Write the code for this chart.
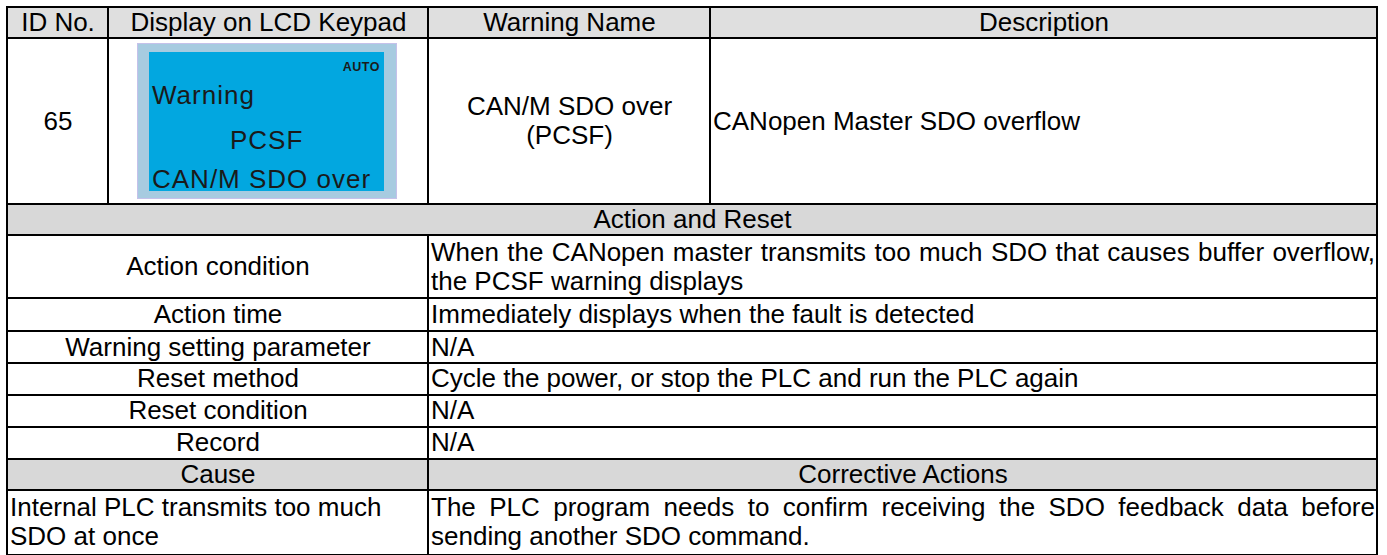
<!DOCTYPE html>
<html>
<head>
<meta charset="utf-8">
<script src="https://cdn.jsdelivr.net/npm/chart.js@4.4.1/dist/chart.umd.min.js"></script>
<style>
  html, body { margin: 0; padding: 0; background: #fff; }
  body { width: 1387px; height: 555px; position: relative; overflow: hidden;
         font-family: "Liberation Sans", Arial, sans-serif; color: #000; }
  #tbl { position: absolute; left: 6px; top: 6px; border-collapse: collapse; table-layout: fixed; }
  #tbl td { border: 2px solid #000; padding: 0 1px 0 2px; font-size: 26px; line-height: 29.2px;
            vertical-align: middle; white-space: nowrap; overflow: hidden; }
  .c { text-align: center; }
  .l { text-align: left; }
  .head td { background: #dfdfdf; }
  .sect td { background: #d8d8d8; }
  .jl { text-align: justify; text-align-last: justify; }
  #lcd { position: absolute; left: 137px; top: 43px; width: 258px; height: 154px;
         background: #a7cbe0; border: 1px solid #c5c1ea; }
  #lcdIn { position: absolute; left: 11px; top: 8px; width: 235px; height: 139px; background: #02a7e0; }
  #lcdIn div { position: absolute; color: #1a1a1a; white-space: nowrap; letter-spacing: 1px; font-size: 26px; line-height: 26px; }
  #lcdIn .mode { font-size: 12.5px; line-height: 13px; font-weight: bold; letter-spacing: 0.5px; right: 4px; top: 9px; }
</style>
</head>
<body>
<table id="tbl">
  <colgroup id="cols"></colgroup>
  <tbody id="body"></tbody>
</table>
<div id="lcd"><div id="lcdIn"></div></div>
<script>
// table content
const headers = ['ID No.', 'Display on LCD Keypad', 'Warning Name', 'Description'];
const warningId = '65';
const lcdMode = 'AUTO';
const lcdLines = ['Warning', 'PCSF', 'CAN/M SDO over'];
const warningName = ['CAN/M SDO over', '(PCSF)'];
const description = 'CANopen Master SDO overflow';
const actionTitle = 'Action and Reset';
const actionItems = ['Action condition', 'Action time', 'Warning setting parameter',
                     'Reset method', 'Reset condition', 'Record'];
const actionValues = [
  ['When the CANopen master transmits too much SDO that causes buffer overflow,', 'the PCSF warning displays'],
  ['Immediately displays when the fault is detected'],
  ['N/A'],
  ['Cycle the power, or stop the PLC and run the PLC again'],
  ['N/A'],
  ['N/A']
];
const causeHeaders = ['Cause', 'Corrective Actions'];
const causes = [['Internal PLC transmits too much', 'SDO at once']];
const corrective = [['The PLC program needs to confirm receiving the SDO feedback data before', 'sending another SDO command.']];

// layout
const colWidths = [101, 320, 282, 667];
const rowHeights = [31, 166, 31, 63, 33, 32, 30, 32, 32, 31, 65];
const lcdPos = [
  { left: 3, top: 30 },   // Warning
  { left: 81, top: 75 },  // PCSF
  { left: 3, top: 114 }   // CAN/M SDO over
];

const cols = document.getElementById('cols');
colWidths.forEach(w => {
  const c = document.createElement('col');
  c.style.width = w + 'px';
  cols.appendChild(c);
});

const body = document.getElementById('body');
let rowIdx = 0;

function addRow(cls) {
  const tr = document.createElement('tr');
  if (cls) tr.className = cls;
  tr.style.height = rowHeights[rowIdx++] + 'px';
  body.appendChild(tr);
  return tr;
}

function addCell(tr, lines, align, span, justify) {
  const td = document.createElement('td');
  td.className = align;
  if (span) td.colSpan = span;
  lines = Array.isArray(lines) ? lines : [lines];
  lines.forEach((t, i) => {
    const d = document.createElement('div');
    d.textContent = t;
    if (justify && i < lines.length - 1) d.className = 'jl';
    td.appendChild(d);
  });
  tr.appendChild(td);
  return td;
}

// header
let tr = addRow('head');
headers.forEach(h => addCell(tr, h, 'c'));

// warning row
tr = addRow();
addCell(tr, warningId, 'c');
addCell(tr, '', 'c');
addCell(tr, warningName, 'c');
addCell(tr, description, 'l');

// action and reset
tr = addRow('sect');
addCell(tr, actionTitle, 'c', 4);
actionItems.forEach((item, i) => {
  const r = addRow();
  addCell(r, item, 'c', 2);
  addCell(r, actionValues[i], 'l', 2, true);
});

// cause / corrective actions
tr = addRow('sect');
addCell(tr, causeHeaders[0], 'c', 2);
addCell(tr, causeHeaders[1], 'c', 2);
causes.forEach((c, i) => {
  const r = addRow();
  addCell(r, c, 'l', 2);
  addCell(r, corrective[i], 'l', 2, true);
});

// keypad display
const lcdIn = document.getElementById('lcdIn');
const m = document.createElement('div');
m.className = 'mode';
m.textContent = lcdMode;
lcdIn.appendChild(m);
lcdLines.forEach((t, i) => {
  const d = document.createElement('div');
  d.textContent = t;
  d.style.left = lcdPos[i].left + 'px';
  d.style.top = lcdPos[i].top + 'px';
  lcdIn.appendChild(d);
});
</script>
</body>
</html>
